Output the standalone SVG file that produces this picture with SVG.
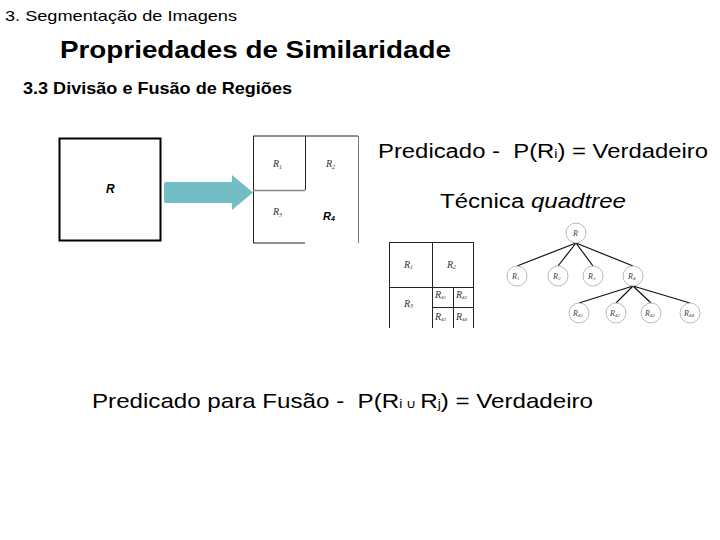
<svg xmlns="http://www.w3.org/2000/svg" width="720" height="540" viewBox="0 0 720 540">
<style>
.sans{font-family:"Liberation Sans",Arial,sans-serif;fill:#000}
.lbl{font-family:"Liberation Serif","Times New Roman",serif;font-style:italic;font-size:10px;fill:#333}
.tl{font-family:"Liberation Serif","Times New Roman",serif;font-style:italic;font-size:8px;fill:#444}
.node{fill:#fff;stroke:#aaa;stroke-width:0.8}
.edge{stroke:#111;stroke-width:1.2;fill:none}
.grid{stroke:#222;stroke-width:1;fill:none}
</style>
<rect width="720" height="540" fill="#fff"/>
<text class="sans" x="5" y="21" font-size="15" textLength="232" lengthAdjust="spacingAndGlyphs">3. Segmentação de Imagens</text>
<text class="sans" x="60" y="58" font-size="23" font-weight="bold" textLength="391" lengthAdjust="spacingAndGlyphs">Propriedades de Similaridade</text>
<text class="sans" x="23" y="94" font-size="17" font-weight="bold" textLength="269" lengthAdjust="spacingAndGlyphs">3.3 Divisão e Fusão de Regiões</text>

<g id="region-R">
<rect x="59.5" y="138.5" width="101" height="102" fill="#fff" stroke="#000" stroke-width="2"/>
<text class="sans" x="106" y="193" font-size="12" font-weight="bold" font-style="italic">R</text>
</g>

<g id="split-arrow">
<path d="M166,182 H232 V175 L253,192.5 L232,210 V203 H166 Q164,203 164,201 V184 Q164,182 166,182 Z" fill="#72BEC4"/>
</g>

<g id="split-quad">
<path class="grid" d="M253,136 H358 M253.5,136 V243 M253,243 H305 M305.5,136 V190"/>
<path d="M253,190.5 H305" stroke="#888" stroke-width="1.5"/>
<path d="M358.5,136 V243" stroke="#555" stroke-width="0.8"/>
<text class="lbl" x="273" y="167">R<tspan font-size="6" dy="2">1</tspan></text>
<text class="lbl" x="326" y="167">R<tspan font-size="6" dy="2">2</tspan></text>
<text class="lbl" x="273" y="215">R<tspan font-size="6" dy="2">3</tspan></text>
<text class="sans" x="323" y="220" font-size="11" font-weight="bold" font-style="italic">R<tspan font-size="7" dy="1">4</tspan></text>
</g>

<text class="sans" x="378" y="158" font-size="20" textLength="330" lengthAdjust="spacingAndGlyphs">Predicado -&#160; P(R<tspan font-size="12">i</tspan>) = Verdadeiro</text>
<text class="sans" x="440" y="208" font-size="20" textLength="186" lengthAdjust="spacingAndGlyphs">Técnica <tspan font-style="italic">quadtree</tspan></text>

<g id="quadtree-grid">
<path class="grid" d="M389,242.5 H473 M389.5,242 V328 M473.5,242 V328 M432.5,242 V328 M389,287.5 H473 M453.5,287 V328 M432,307.5 H473"/>
<text class="lbl" x="404" y="268" font-size="9">R<tspan font-size="6" dy="1">1</tspan></text>
<text class="lbl" x="447" y="268" font-size="9">R<tspan font-size="6" dy="1">2</tspan></text>
<text class="lbl" x="404" y="307" font-size="9">R<tspan font-size="6" dy="1">3</tspan></text>
<text class="lbl" x="435" y="298" font-size="8">R<tspan font-size="5" dy="1">41</tspan></text>
<text class="lbl" x="456" y="298" font-size="8">R<tspan font-size="5" dy="1">42</tspan></text>
<text class="lbl" x="435" y="320" font-size="8">R<tspan font-size="5" dy="1">43</tspan></text>
<text class="lbl" x="456" y="320" font-size="8">R<tspan font-size="5" dy="1">44</tspan></text>
</g>

<g id="tree-edges">
<path class="edge" d="M576,243 L517,266 M576,243 L558,266 M576,243 L593,266 M576,243 L633,266"/>
<path class="edge" d="M633,286 L579,303 M633,286 L616,303 M633,286 L651,303 M633,286 L690,303"/>
</g>
<g id="tree-R"><circle class="node" cx="576" cy="233" r="10"/><text class="tl" x="573" y="236">R</text></g>
<g id="tree-R1"><circle class="node" cx="517" cy="276" r="10"/><text class="tl" x="512" y="279">R<tspan font-size="5" dy="1">1</tspan></text></g>
<g id="tree-R2"><circle class="node" cx="558" cy="276" r="10"/><text class="tl" x="553" y="279">R<tspan font-size="5" dy="1">2</tspan></text></g>
<g id="tree-R3"><circle class="node" cx="593" cy="276" r="10"/><text class="tl" x="588" y="279">R<tspan font-size="5" dy="1">3</tspan></text></g>
<g id="tree-R4"><circle class="node" cx="633" cy="276" r="10"/><text class="tl" x="628" y="279">R<tspan font-size="5" dy="1">4</tspan></text></g>
<g id="tree-R41"><circle class="node" cx="579" cy="313" r="10"/><text class="tl" x="573" y="316">R<tspan font-size="5" dy="1">41</tspan></text></g>
<g id="tree-R42"><circle class="node" cx="616" cy="313" r="10"/><text class="tl" x="610" y="316">R<tspan font-size="5" dy="1">42</tspan></text></g>
<g id="tree-R43"><circle class="node" cx="651" cy="313" r="10"/><text class="tl" x="645" y="316">R<tspan font-size="5" dy="1">43</tspan></text></g>
<g id="tree-R44"><circle class="node" cx="690" cy="313" r="10"/><text class="tl" x="684" y="316">R<tspan font-size="5" dy="1">44</tspan></text></g>

<text class="sans" x="92" y="408" font-size="21" textLength="501" lengthAdjust="spacingAndGlyphs">Predicado para Fusão -&#160; P(R<tspan font-size="12">i</tspan><tspan font-size="12"> ∪ </tspan>R<tspan font-size="12">j</tspan>) = Verdadeiro</text>
</svg>
